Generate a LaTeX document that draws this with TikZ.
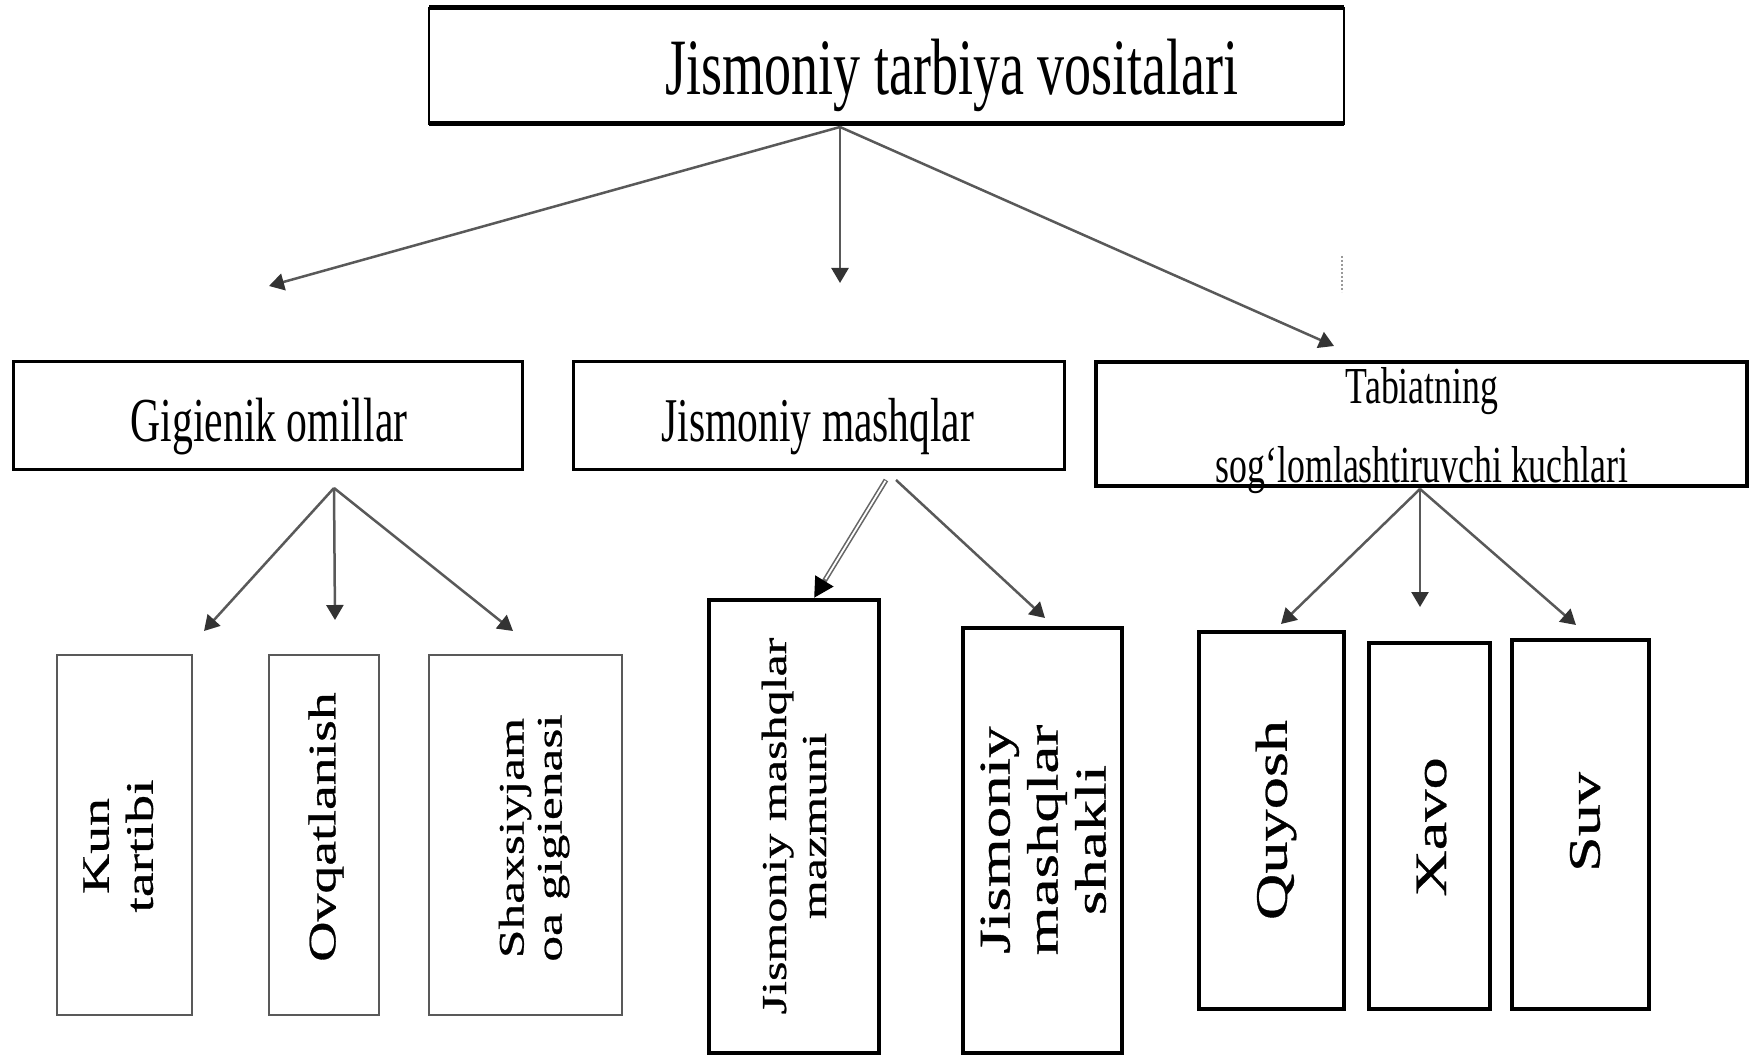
\documentclass[tikz,border=0pt]{standalone}
\usepackage{fontspec}
\setmainfont{Liberation Serif}
\newfontfamily\rotfont{Liberation Serif}[FakeBold=0.6]
\usetikzlibrary{arrows.meta}
\newcommand{\vstr}[2]{\scalebox{1}[#1]{#2}}
\newcommand{\hstr}[1]{\scalebox{1.43}[1]{\rotfont #1}}
\begin{document}
\begin{tikzpicture}[x=1pt,y=-1pt,
  boxa/.style={draw=black,line width=3pt,inner sep=0pt,outer sep=0pt},
  boxthin/.style={draw=black!65,line width=2pt,inner sep=0pt,outer sep=0pt},
  boxbold/.style={draw=black,line width=4pt,inner sep=0pt,outer sep=0pt},
  txt/.style={inner sep=0pt,outer sep=0pt},
  arr/.style={draw=black!65,line width=2.5pt,-{Triangle[length=15pt,width=17pt,color=black!80]}},
  dblarr/.style={draw=black!60,line width=5pt,-{Triangle[length=20pt,width=20pt,color=black]}},
  dblgap/.style={draw=white,line width=1.8pt,shorten >=22pt,shorten <=1pt},
]
\useasboundingbox (0,0) rectangle (1756,1056);
\fill[white] (0,0) rectangle (1756,1056);

% ---- top
\node[draw=black,line width=2pt,inner sep=0pt,outer sep=0pt,minimum width=915pt,minimum height=116pt] (top) at (886.5,66) {};
\draw[line width=5pt] (top.north west) -- (top.north east);
\draw[line width=5pt] (top.south west) -- (top.south east);
\node[txt,anchor=base] (topT) at (952,95) {\vstr{1.48}{\fontsize{54}{60}\selectfont Jismoniy tarbiya vositalari}};

% ---- middle row
\node[boxa,minimum width=509pt,minimum height=107pt] (gig) at (267.5,415.5) {};
\node[txt,anchor=base] (gigT) at (269,441) {\vstr{1.5}{\fontsize{41.7}{50}\selectfont Gigienik omillar}};
\node[boxa,minimum width=491pt,minimum height=107pt] (jm) at (818.5,415.5) {};
\node[txt,anchor=base] (jmT) at (818,441) {\vstr{1.5}{\fontsize{41.5}{50}\selectfont Jismoniy mashqlar}};
\node[boxbold,minimum width=651pt,minimum height=124pt] (tab) at (1421.5,424) {};
\node[txt,anchor=base] (tabT1) at (1422,403) {\vstr{1.45}{\fontsize{35.8}{44}\selectfont Tabiatning}};
\node[txt,anchor=base] (tabT2) at (1422,482) {\vstr{1.45}{\fontsize{35.8}{44}\selectfont sog‘lomlashtiruvchi kuchlari}};

% ---- bottom row
\node[boxthin,minimum width=135pt,minimum height=360pt] (kun) at (124.5,835) {};
\node[txt,rotate=90] (kunT) at (122,846) {\hstr{\fontsize{39}{44}\selectfont\begin{tabular}{@{}c@{}}Kun\\tartibi\end{tabular}}};
\node[boxthin,minimum width=110pt,minimum height=360pt] (ovq) at (324,835) {};
\node[txt,rotate=90] (ovqT) at (326,827) {\hstr{\fontsize{39}{44}\selectfont Ovqatlanish}};
\node[boxthin,minimum width=193pt,minimum height=360pt] (shax) at (525.5,835) {};
\node[txt,rotate=90] (shaxT) at (535,838) {\hstr{\fontsize{36}{38}\selectfont\begin{tabular}{@{}c@{}}Shaxsiyjam\\oa gigienasi\end{tabular}}};

\node[boxbold,minimum width=170pt,minimum height=453pt] (jmm) at (794,826.5) {};
\node[txt,rotate=90] (jmmT) at (798,826) {\hstr{\fontsize{35}{40}\selectfont\begin{tabular}{@{}c@{}}Jismoniy mashqlar\\mazmuni\end{tabular}}};
\node[boxbold,minimum width=159pt,minimum height=425pt] (jms) at (1042.5,840.5) {};
\node[txt,rotate=90] (jmsT) at (1048,840) {\hstr{\fontsize{44}{48}\selectfont\begin{tabular}{@{}c@{}}Jismoniy\\mashqlar\\shakli\end{tabular}}};

\node[boxbold,minimum width=145pt,minimum height=377pt] (quy) at (1271.5,820.5) {};
\node[txt,rotate=90] (quyT) at (1276,820) {\hstr{\fontsize{45}{50}\selectfont Quyosh}};
\node[boxbold,minimum width=121pt,minimum height=366pt] (xav) at (1429.5,826) {};
\node[txt,rotate=90] (xavT) at (1431.5,827) {\hstr{\fontsize{45}{50}\selectfont Xavo}};
\node[boxbold,minimum width=137pt,minimum height=369pt] (suv) at (1580.5,824.5) {};
\node[txt,rotate=90] (suvT) at (1585,822) {\hstr{\fontsize{45}{50}\selectfont Suv}};

% ---- connector end points
\coordinate (topS) at (840,127);
\coordinate (e1) at (269,286);
\coordinate (e2) at (840,283);
\coordinate (e3) at (1334,346);
\coordinate (gigS) at (334,488);
\coordinate (g1) at (204,631);
\coordinate (g2) at (335,620);
\coordinate (g3) at (513,631);
\coordinate (jmS1) at (886,480);
\coordinate (jmS2) at (896,480);
\coordinate (m1) at (814,598);
\coordinate (m2) at (1045,618);
\coordinate (tabS) at (1420,489);
\coordinate (t1) at (1281,624);
\coordinate (t2) at (1420,607);
\coordinate (t3) at (1576,625);

\draw[arr] (topS) -- (e1);
\draw[arr] (topS) -- (e2);
\draw[arr] (topS) -- (e3);
\draw[arr] (gigS) -- (g1);
\draw[arr] (gigS) -- (g2);
\draw[arr] (gigS) -- (g3);
\draw[dblarr] (jmS1) -- (m1);
\draw[dblgap] (jmS1) -- (m1);
\draw[arr] (jmS2) -- (m2);
\draw[arr] (tabS) -- (t1);
\draw[arr] (tabS) -- (t2);
\draw[arr] (tabS) -- (t3);

\draw[black!40,line width=2pt,dotted] (1342,256) -- (1342,292);
\end{tikzpicture}
\end{document}
